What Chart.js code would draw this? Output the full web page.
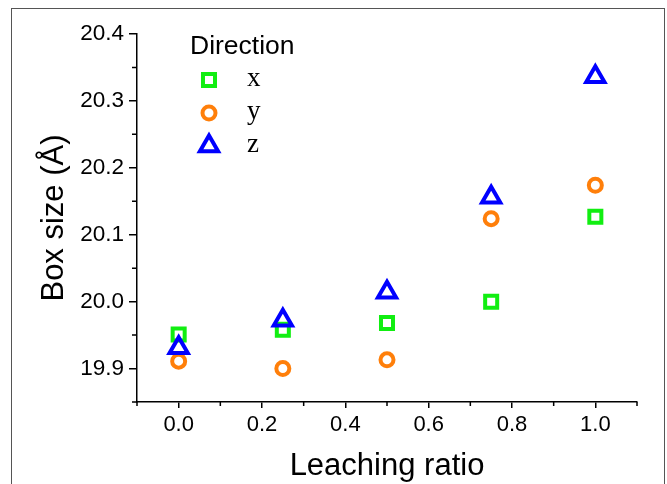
<!DOCTYPE html>
<html>
<head>
<meta charset="utf-8">
<script src="https://cdn.jsdelivr.net/npm/chart.js@4.4.1/dist/chart.umd.min.js"></script>
<style>
  body { margin: 0; background: #fff; overflow: hidden; }
  #wrap { position: relative; width: 667px; height: 484px; overflow: hidden; }
  #frame { position: absolute; left: 11px; top: 8px; width: 652px; height: 520px; border: 1.5px solid #555; }
  #grafico { position: absolute; left: 0; top: 0; }
</style>
</head>
<body>
<div id="wrap">
  <div id="frame"></div>
  <canvas id="grafico" width="667" height="484"></canvas>
</div>
<script>
// dados
const razao = [0, 0.25, 0.5, 0.75, 1.0];
const boxX = [19.951, 19.958, 19.968, 20.000, 20.127];
const boxY = [19.911, 19.900, 19.913, 20.124, 20.174];
const boxZ = [19.931, 19.972, 20.014, 20.156, 20.336];

const ticksX = [0.0, 0.2, 0.4, 0.6, 0.8, 1.0];
const ticksY = [19.9, 20.0, 20.1, 20.2, 20.3, 20.4];
const minorX = [-0.1, 0.1, 0.3, 0.5, 0.7, 0.9, 1.1];
const minorY = [19.85, 19.95, 20.05, 20.15, 20.25, 20.35];

const SANS = "'Liberation Sans', Arial, sans-serif";
const SERIF = "'Liberation Serif', 'Times New Roman', serif";

Chart.defaults.font.family = SANS;
Chart.defaults.color = '#000';

function pontos(ys) {
    return razao.map((x, i) => ({ x: x, y: ys[i] }));
}

// legenda desenhada dentro da área do gráfico
const legendaDirecao = {
    id: 'legendaDirecao',
    afterDraw(chart) {
        const ctx = chart.ctx;
        ctx.save();
        ctx.fillStyle = '#000';
        ctx.textBaseline = 'middle';
        ctx.font = '26.5px ' + SANS;
        ctx.fillText('Direction', 190, 47);
        chart.data.datasets.forEach((ds, i) => {
            const y = 80 + i * 33;
            ctx.strokeStyle = ds.borderColor;
            ctx.fillStyle = '#fff';
            ctx.lineWidth = ds.borderWidth;
            Chart.helpers.drawPoint(ctx, { pointStyle: ds.pointStyle, radius: ds.pointRadius, rotation: 0, borderWidth: ds.borderWidth }, 209, y);
            ctx.fillStyle = '#000';
            ctx.font = '27px ' + SERIF;
            ctx.fillText(ds.label, 247, y - 1);
        });
        ctx.restore();
    }
};

// ticks menores
const ticksMenores = {
    id: 'ticksMenores',
    afterDraw(chart) {
        const ctx = chart.ctx;
        const sx = chart.scales.x, sy = chart.scales.y;
        ctx.save();
        ctx.strokeStyle = '#000';
        ctx.lineWidth = 1.5;
        ctx.beginPath();
        minorX.forEach(v => {
            const px = sx.getPixelForValue(v);
            ctx.moveTo(px, sx.top);
            ctx.lineTo(px, sx.top + 4);
        });
        minorY.forEach(v => {
            const py = sy.getPixelForValue(v);
            ctx.moveTo(sy.right, py);
            ctx.lineTo(sy.right - 5, py);
        });
        ctx.stroke();
        ctx.restore();
    }
};

new Chart(document.getElementById('grafico').getContext('2d'), {
    type: 'scatter',
    data: {
        datasets: [
            { label: 'x', data: pontos(boxX), pointStyle: 'rect', pointRadius: 8.5, borderColor: '#11ee11', backgroundColor: 'rgba(0,0,0,0)', borderWidth: 4, order: 2 },
            { label: 'y', data: pontos(boxY), pointStyle: 'circle', pointRadius: 6.5, borderColor: '#ff7f0a', backgroundColor: 'rgba(0,0,0,0)', borderWidth: 4, order: 1 },
            { label: 'z', data: pontos(boxZ), pointStyle: 'triangle', pointRadius: 10.5, borderColor: '#0000ff', backgroundColor: 'rgba(0,0,0,0)', borderWidth: 4, order: 0 }
        ]
    },
    options: {
        responsive: false,
        animation: false,
        devicePixelRatio: 1,
        layout: { padding: { top: 34, right: 30, bottom: 0, left: 0 } },
        plugins: { legend: { display: false }, tooltip: { enabled: false } },
        elements: { point: { hoverRadius: 8 } },
        scales: {
            x: {
                type: 'linear', min: -0.1, max: 1.1,
                afterBuildTicks: s => { s.ticks = ticksX.map(v => ({ value: v })); },
                afterFit: s => { s.height = 82; },
                grid: { drawOnChartArea: false, drawTicks: true, tickLength: 6, color: '#000', lineWidth: 1.5 },
                border: { display: true, color: '#000', width: 1.5 },
                ticks: { font: { size: 22 }, padding: 4, color: '#000', callback: v => v.toFixed(1) },
                title: { display: true, text: 'Leaching ratio', font: { size: 31, lineHeight: 1.1 }, color: '#000', padding: { top: 0, bottom: 0 } }
            },
            y: {
                type: 'linear', min: 19.85, max: 20.4,
                afterBuildTicks: s => { s.ticks = ticksY.map(v => ({ value: v })); },
                afterFit: s => { s.width = 137; },
                grid: { drawOnChartArea: false, drawTicks: true, tickLength: 8, color: '#000', lineWidth: 1.5 },
                border: { display: true, color: '#000', width: 1.5 },
                ticks: { font: { size: 22.5 }, padding: 5, color: '#000', callback: v => v.toFixed(1) },
                title: { display: true, text: 'Box size (Å)', font: { size: 31 }, color: '#000', padding: { top: 36, bottom: 0 } }
            }
        }
    },
    plugins: [legendaDirecao, ticksMenores]
});
</script>
</body>
</html>
